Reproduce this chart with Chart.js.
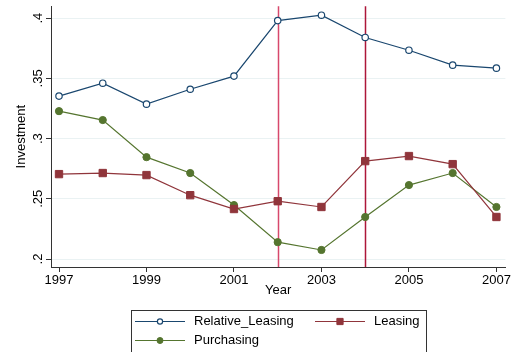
<!DOCTYPE html>
<html>
<head>
<meta charset="utf-8">
<script src="https://cdn.jsdelivr.net/npm/chart.js@4/dist/chart.umd.min.js"></script>
<style>
  html, body { margin: 0; padding: 0; background: #fff; }
  #wrap { width: 512px; height: 352px; position: relative; }
</style>
</head>
<body>
<div id="wrap"><canvas id="c" width="512" height="352"></canvas></div>
<script>
// Annual investment ratios, 1997-2007
const years = [1997, 1998, 1999, 2000, 2001, 2002, 2003, 2004, 2005, 2006, 2007];
const relativeLeasing = [0.3353, 0.3460, 0.3286, 0.3410, 0.3519, 0.3980, 0.4025, 0.3840, 0.3734, 0.3610, 0.3585];
const leasing = [0.2705, 0.2714, 0.2697, 0.2530, 0.2415, 0.2480, 0.2432, 0.2813, 0.2855, 0.2788, 0.2349];
const purchasing = [0.3228, 0.3154, 0.2846, 0.2714, 0.2448, 0.2140, 0.2075, 0.2349, 0.2614, 0.2714, 0.2432];
const xTicks = [1997, 1999, 2001, 2003, 2005, 2007];
const yTicks = [0.2, 0.25, 0.3, 0.35, 0.4];
const yTickLabels = ['.2', '.25', '.3', '.35', '.4'];
// Reference years marked by vertical lines
const markYears = [2002, 2004];
const markColors = ['#d8486c', '#ad1639'];

const FONT = 'Liberation Sans, Arial, Helvetica, sans-serif';

const toPoints = arr => arr.map((v, i) => ({ x: years[i], y: v }));

// Vertical reference lines behind the series
const markLines = {
  id: 'markLines',
  beforeDatasetsDraw(chart) {
    const { ctx, chartArea, scales } = chart;
    ctx.save();
    ctx.lineWidth = 1.5;
    markYears.forEach((yr, i) => {
      const px = Math.round(scales.x.getPixelForValue(yr)) + 0.5;
      ctx.strokeStyle = markColors[i];
      ctx.beginPath();
      ctx.moveTo(px, chartArea.top);
      ctx.lineTo(px, chartArea.bottom);
      ctx.stroke();
    });
    ctx.restore();
  }
};

// Rotated y tick labels
const yLabels = {
  id: 'yLabels',
  afterDraw(chart) {
    const { ctx, scales } = chart;
    ctx.save();
    ctx.fillStyle = '#000';
    ctx.font = '13px ' + FONT;
    ctx.textAlign = 'center';
    ctx.textBaseline = 'middle';
    yTicks.forEach((v, i) => {
      const py = scales.y.getPixelForValue(v);
      ctx.save();
      ctx.translate(38, py);
      ctx.rotate(-Math.PI / 2);
      ctx.fillText(yTickLabels[i], 0, 0);
      ctx.restore();
    });
    ctx.restore();
  }
};

// Boxed legend below the plot; key markers are a little smaller than on the plot
const legendMarkerRadius = { circleHollow: 2.6, rect: 4.4, circle: 3.0 };
const boxLegend = {
  id: 'boxLegend',
  afterDraw(chart) {
    const { ctx } = chart;
    const ds = chart.data.datasets;
    ctx.save();
    ctx.strokeStyle = '#333';
    ctx.lineWidth = 1;
    ctx.strokeRect(131.5, 310.5, 295, 60);
    const slots = [
      { x: 135, y: 321 },
      { x: 315, y: 321 },
      { x: 135, y: 340 }
    ];
    ctx.font = '13px ' + FONT;
    ctx.textBaseline = 'middle';
    ctx.textAlign = 'left';
    ds.forEach((d, i) => {
      const s = slots[i];
      const cy = s.y + 0.5;
      ctx.strokeStyle = d.borderColor;
      ctx.lineWidth = 1.2;
      ctx.beginPath();
      ctx.moveTo(s.x, cy);
      ctx.lineTo(s.x + 50, cy);
      ctx.stroke();
      ctx.fillStyle = d.pointBackgroundColor;
      ctx.strokeStyle = d.borderColor;
      ctx.lineWidth = d.pointBorderWidth;
      ctx.beginPath();
      if (d.pointStyle === 'rect') {
        const h = Math.SQRT1_2 * legendMarkerRadius.rect;
        ctx.rect(s.x + 25 - h, cy - h, 2 * h, 2 * h);
      } else {
        const r = d.pointBackgroundColor === '#ffffff' ? legendMarkerRadius.circleHollow : legendMarkerRadius.circle;
        ctx.arc(s.x + 25, cy, r, 0, Math.PI * 2);
      }
      ctx.fill();
      ctx.stroke();
      ctx.fillStyle = '#000';
      ctx.fillText(d.label, s.x + 59, s.y);
    });
    ctx.restore();
  }
};

new Chart(document.getElementById('c'), {
  type: 'line',
  data: {
    datasets: [
      {
        label: 'Relative_Leasing',
        data: toPoints(relativeLeasing),
        borderColor: '#1a476f',
        backgroundColor: '#ffffff',
        pointBackgroundColor: '#ffffff',
        pointBorderColor: '#1a476f',
        pointStyle: 'circle',
        pointRadius: 3.2,
        pointBorderWidth: 1.2,
        borderWidth: 1.2
      },
      {
        label: 'Leasing',
        data: toPoints(leasing),
        borderColor: '#90353b',
        backgroundColor: '#90353b',
        pointBackgroundColor: '#90353b',
        pointBorderColor: '#90353b',
        pointStyle: 'rect',
        pointRadius: 5.2,
        pointBorderWidth: 1,
        borderWidth: 1.2
      },
      {
        label: 'Purchasing',
        data: toPoints(purchasing),
        borderColor: '#55752f',
        backgroundColor: '#55752f',
        pointBackgroundColor: '#55752f',
        pointBorderColor: '#55752f',
        pointStyle: 'circle',
        pointRadius: 3.6,
        pointBorderWidth: 1,
        borderWidth: 1.2
      }
    ]
  },
  options: {
    responsive: false,
    animation: false,
    layout: { padding: { top: 6, right: 6, bottom: 54, left: 0 } },
    plugins: {
      legend: { display: false },
      tooltip: { enabled: false }
    },
    elements: { line: { tension: 0 } },
    scales: {
      x: {
        type: 'linear',
        min: 1996.817,
        max: 2007.205,
        afterBuildTicks: s => { s.ticks = xTicks.map(v => ({ value: v })); },
        afterFit: s => { s.height = 31; },
        grid: { drawOnChartArea: false, drawTicks: true, tickLength: 5, tickColor: '#333' },
        border: { display: true, color: '#333', width: 1 },
        ticks: {
          color: '#000',
          padding: 1,
          maxRotation: 0,
          autoSkip: false,
          font: { family: FONT, size: 13 },
          callback: v => String(v)
        },
        title: {
          display: true,
          text: 'Year',
          color: '#000',
          padding: { top: 0, bottom: 0 },
          font: { family: FONT, size: 13 }
        }
      },
      y: {
        type: 'linear',
        min: 0.19336,
        max: 0.40996,
        afterBuildTicks: s => { s.ticks = yTicks.map(v => ({ value: v })); },
        afterFit: s => { s.width = 51; },
        grid: { color: '#eaf2f3', lineWidth: 1, drawTicks: true, tickLength: 5, tickColor: '#333' },
        border: { display: true, color: '#333', width: 1 },
        ticks: { display: false },
        title: {
          display: true,
          text: 'Investment',
          color: '#000',
          padding: { top: 14, bottom: 0 },
          font: { family: FONT, size: 13 }
        }
      }
    }
  },
  plugins: [markLines, yLabels, boxLegend]
});
</script>
</body>
</html>
